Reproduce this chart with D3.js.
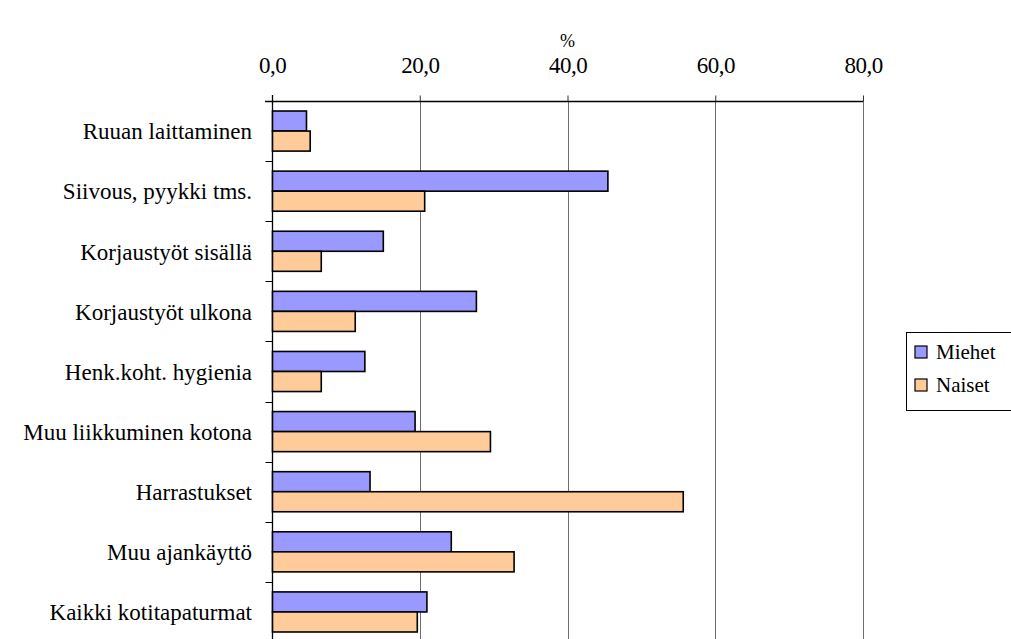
<!DOCTYPE html>
<meta charset="utf-8">
<head>
  <title>Kotitapaturmat</title>
</head>

<style>
body { margin: 0; background: #fff; }
svg text { font-family: "Liberation Serif", "Times New Roman", Tinos, "DejaVu Serif", "Noto Serif", serif; fill: #000; }
</style>

<body>
  <svg width="1011" height="639"></svg>

  <script src="https://cdnjs.cloudflare.com/ajax/libs/d3/7.8.5/d3.min.js"></script>

  <script>
var width = 1011, height = 639
var serif = '"Liberation Serif", "Times New Roman", Tinos, "DejaVu Serif", "Noto Serif", serif'

// data
let categories = [
  "Ruuan laittaminen",
  "Siivous, pyykki tms.",
  "Korjaustyöt sisällä",
  "Korjaustyöt ulkona",
  "Henk.koht. hygienia",
  "Muu liikkuminen kotona",
  "Harrastukset",
  "Muu ajankäyttö",
  "Kaikki kotitapaturmat"
]
let series = ["Miehet", "Naiset"]
let miehet = [4.6, 45.4, 15.0, 27.6, 12.5, 19.3, 13.2, 24.2, 20.9]
let naiset = [5.1, 20.6, 6.6, 11.2, 6.6, 29.5, 55.6, 32.7, 19.6]
let ticks = [0, 20, 40, 60, 80]
let colors = ["#9999ff", "#ffcc99"]

var rows = categories.map(function(c, i) {
  return {cat: c, vals: [miehet[i], naiset[i]]}
})

var svg = d3.select('svg').style('font-family', serif)
var plotL = 272, plotR = 863, plotT = 101, plotB = 642

var x = d3.scaleLinear().domain([0, 80]).range([plotL, plotR])
var y0 = d3.scaleBand().domain(categories).range([plotT, plotB])
var y1 = d3.scaleBand().domain(series).range([0, y0.bandwidth()]).paddingOuter(0.5)

// gridlines
svg.append('g')
  .selectAll('line')
  .data(ticks.slice(1))
  .enter().append('line')
  .attr('x1', function(d) { return Math.round(x(d)) + 0.5 })
  .attr('x2', function(d) { return Math.round(x(d)) + 0.5 })
  .attr('y1', plotT)
  .attr('y2', plotB)
  .attr('stroke', '#6e6e6e')
  .attr('stroke-width', 1)

// top axis
var xAxis = d3.axisTop(x)
  .tickValues(ticks)
  .tickSize(6)
  .tickPadding(23)
  .tickFormat(function(d) { return d3.format('.1f')(d).replace('.', ',') })

var gx = svg.append('g')
  .attr('transform', 'translate(0,' + (plotT + 0.5) + ')')
  .call(xAxis)
  .attr('font-family', serif)
  .attr('font-size', 23)
gx.select('.domain').attr('d', 'M' + (plotL - 7) + ',0H' + plotR).attr('stroke', '#000').attr('stroke-width', 1.3)
gx.selectAll('.tick line').attr('stroke', '#333')
gx.selectAll('.tick text')
  .style('font-family', serif)
  .style('font-size', '23px')
  .style('letter-spacing', '-0.5px')
  .attr('fill', '#000')

svg.append('text')
  .attr('x', x(40))
  .attr('y', 47)
  .attr('text-anchor', 'middle')
  .style('font-family', serif)
  .style('font-size', '18px')
  .text('%')

// left axis
var gy = svg.append('g')
  .attr('transform', 'translate(' + (plotL + 0.5) + ',0)')
gy.append('line')
  .attr('x1', 0).attr('x2', 0)
  .attr('y1', plotT - 6).attr('y2', plotB)
  .attr('stroke', '#000').attr('stroke-width', 1.3)
gy.selectAll('.sep')
  .data(categories)
  .enter().append('line')
  .attr('class', 'sep')
  .attr('x1', -7).attr('x2', 0)
  .attr('y1', function(d) { return Math.round(y0(d)) + 0.5 })
  .attr('y2', function(d) { return Math.round(y0(d)) + 0.5 })
  .attr('stroke', '#000')

svg.append('g')
  .selectAll('text')
  .data(categories)
  .enter().append('text')
  .attr('x', plotL - 20)
  .attr('y', function(d) { return y0(d) + y0.bandwidth() / 2 })
  .attr('dy', '0.36em')
  .attr('text-anchor', 'end')
  .style('font-family', serif)
  .style('font-size', '23px')
  .text(function(d) { return d })

// bars
var groups = svg.append('g')
  .selectAll('g')
  .data(rows)
  .enter().append('g')
  .attr('transform', function(d) { return 'translate(0,' + y0(d.cat) + ')' })

groups.selectAll('rect')
  .data(function(d) { return d.vals.map(function(v, i) { return {s: series[i], v: v, i: i} }) })
  .enter().append('rect')
  .attr('x', x(0) + 0.5)
  .attr('y', function(d) { return y1(d.s) })
  .attr('width', function(d) { return x(d.v) - x(0) })
  .attr('height', y1.bandwidth())
  .attr('fill', function(d) { return colors[d.i] })
  .attr('stroke', '#000')
  .attr('stroke-width', 1.6)

// legend
var lg = svg.append('g').attr('transform', 'translate(906,332)')
lg.append('rect')
  .attr('x', 0.5).attr('y', 0.5)
  .attr('width', 120).attr('height', 78)
  .attr('fill', '#fff')
  .attr('stroke', '#000')

var items = lg.selectAll('.item')
  .data(series)
  .enter().append('g')
  .attr('class', 'item')
  .attr('transform', function(d, i) { return 'translate(9,' + (14 + i * 33) + ')' })

items.append('rect')
  .attr('width', 12).attr('height', 12)
  .attr('fill', function(d, i) { return colors[i] })
  .attr('stroke', '#000')
  .attr('stroke-width', 1.2)

items.append('text')
  .attr('x', 21)
  .attr('y', 13)
  .style('font-family', serif)
  .style('font-size', '21px')
  .text(function(d) { return d })
  </script>
</body>
</html>
